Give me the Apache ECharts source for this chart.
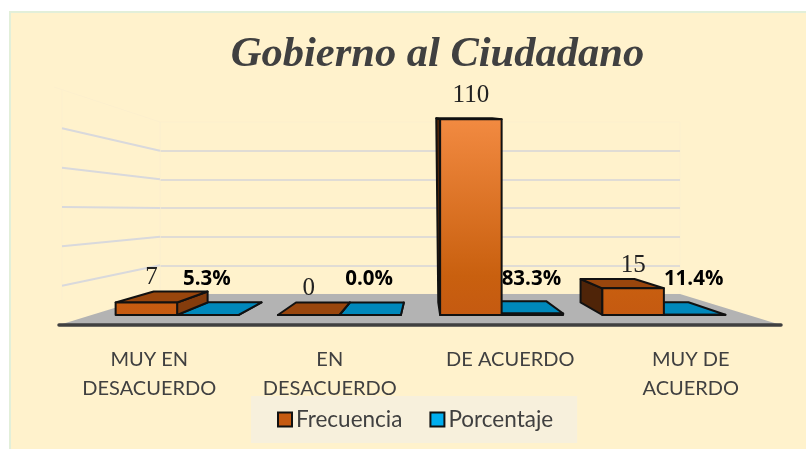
<!DOCTYPE html>
<html>
<head>
<meta charset="utf-8">
<style>
  html, body { margin: 0; padding: 0; background: #fff; }
  #panel { position: absolute; left: 9px; top: 11px; width: 795px; height: 436px; background: #FFF2CC; border-left: 2px solid #E2EFD9; border-top: 2px solid #E2EFD9; }
  #chart { position: absolute; left: 0; top: 0; width: 806px; height: 449px; }
</style>
</head>
<body>
<div id="panel"></div>
<div id="chart"></div>
<script src="https://cdn.jsdelivr.net/npm/echarts@6/dist/echarts.min.js"></script>
<script>
const categories = ["MUY EN\nDESACUERDO", "EN\nDESACUERDO", "DE ACUERDO", "MUY DE\nACUERDO"];
const frecuencia = [7, 0, 110, 15];
const porcentaje = [5.3, 0.0, 83.3, 11.4];
const wallTicks = [20, 40, 60, 80, 100];

// the chart was a 3D one, so there are three planes with their own scale
const axisMax = 120;
const frontGrid = { left: 59, top: 89, width: 722, height: 236 };
const backGrid = { left: 160, top: 122, width: 520, height: 172 };
const barGrid = { left: 96, top: 101.4, width: 649, height: 213.6 };

// perspective of the bar depth
const vx = 425, vy = 213, depth = 0.877;
function deep(p) {
  return [vx + depth * (p[0] - vx), vy + depth * (p[1] - vy)];
}

const serifFont = '"Liberation Serif", serif';
const barWidth = 61.5;

function poly(points, fill) {
  return {
    type: "polygon",
    shape: { points: points },
    style: { fill: fill, stroke: "#111", lineWidth: 2, lineJoin: "round" }
  };
}

// one box: side, top and front faces
function box(x0, x1, yTop, yBase, faces) {
  const a = deep([x0, yBase]), b = deep([x1, yBase]);
  let c = deep([x0, yTop]), d = deep([x1, yTop]);
  if (c[1] >= yTop) {
    c = [c[0] - 2, yTop - 1];
    d = [d[0], yTop - 1];
  }
  const out = [];
  if (x0 > vx) {
    out.push(poly([[x0, yTop], c, a, [x0, yBase]], faces.left));
  }
  if (x1 < vx) {
    out.push(poly([[x1, yTop], d, b, [x1, yBase]], faces.right));
  }
  out.push(poly([[x0, yTop], [x1, yTop], d, c], faces.top));
  out.push(poly([[x0, yTop], [x1, yTop], [x1, yBase], [x0, yBase]], faces.front));
  return { parts: out, backTop: c[1] };
}

function renderFrecuencia(params, api) {
  const i = api.value(0), v = api.value(1);
  const top = api.coord([i, v]), base = api.coord([i, 0]);
  const tall = api.coord([i, 110])[1];
  const x1 = base[0], x0 = x1 - barWidth;
  const r = box(x0, x1, top[1], base[1], {
    left: "#4F2408", right: "#843C0C", top: "#99460D",
    front: {
      type: "linear", global: true, x: 0, y: tall, x2: 0, y2: base[1],
      colorStops: [{ offset: 0, color: "#F28A41" }, { offset: 0.8, color: "#C9600F" }, { offset: 1, color: "#C55A11" }]
    }
  });
  const clipped = r.backTop >= top[1] - 2;
  const nudge = i === 0 ? 5 : 0;
  r.parts.push({
    type: "text",
    style: {
      x: (x0 + x1) / 2 + nudge,
      y: clipped ? top[1] - 24 : r.backTop - 14,
      text: String(v), fill: "#222", font: "25px " + serifFont,
      align: "center", verticalAlign: "middle"
    }
  });
  return { type: "group", children: r.parts };
}

function renderPorcentaje(params, api) {
  const i = api.value(0), v = api.value(1);
  // percentages share the count axis, so they stay almost flat
  const top = api.coord([i, v / 100]), base = api.coord([i, 0]);
  const x0 = base[0], x1 = x0 + barWidth;
  const r = box(x0, x1, top[1], base[1], { left: "#005F82", right: "#005F82", top: "#0088BB", front: "#0088BB" });
  r.parts.push({
    type: "text",
    style: {
      x: (x0 + x1) / 2 - 1, y: base[1] - 36,
      text: v.toFixed(1) + "%", fill: "#000", font: 'bold 20.5px "Open Sans", sans-serif',
      align: "center", verticalAlign: "middle"
    }
  });
  return { type: "group", children: r.parts };
}

function renderFloor(params) {
  const c = params.coordSys, by = backGrid.top + backGrid.height;
  return {
    type: "group",
    children: [
      { type: "polygon", shape: { points: [[c.x, c.y + c.height], [backGrid.left, by], [backGrid.left + backGrid.width, by], [c.x + c.width, c.y + c.height]] }, style: { fill: "#B3B3B3" } },
      { type: "polyline", shape: { points: [[54, c.y - 2], [backGrid.left, backGrid.top], [backGrid.left, by]] }, style: { fill: "none", stroke: "#FCEFCD", lineWidth: 1 } },
      { type: "line", shape: { x1: 62, y1: c.y, x2: 62, y2: 300 }, style: { stroke: "#FCEFCD", lineWidth: 1 } }
    ]
  };
}

function renderWall(params, api) {
  const v = api.value(0);
  const p = api.coord([0, v]);
  const backY = backGrid.top + backGrid.height * (1 - v / axisMax);
  return {
    type: "line",
    shape: { x1: 62, y1: p[1], x2: backGrid.left, y2: backY },
    style: { stroke: "#D9D9DC", lineWidth: 2 }
  };
}

const chart = echarts.init(document.getElementById("chart"));

chart.setOption({
  backgroundColor: "transparent",
  animation: false,
  title: {
    text: "Gobierno al Ciudadano",
    left: 432.5,
    top: 29,
    textAlign: "center",
    textStyle: { fontFamily: serifFont, fontStyle: "italic", fontWeight: "bold", fontSize: 42.5, color: "#404040" }
  },
  legend: {
    left: 251,
    top: 396,
    padding: [12, 24, 12, 26],
    backgroundColor: "#F7F0DC",
    itemWidth: 14,
    itemHeight: 14,
    itemGap: 27,
    icon: "rect",
    textStyle: { fontFamily: "Lato, sans-serif", fontSize: 22.5, color: "#404040", padding: [0, 0, 0, -1] },
    data: [
      { name: "Frecuencia", itemStyle: { color: "#C55A11", borderColor: "#111", borderWidth: 2 } },
      { name: "Porcentaje", itemStyle: { color: "#00AEEF", borderColor: "#111", borderWidth: 2 } }
    ]
  },
  grid: [
    Object.assign({}, frontGrid),
    Object.assign({ show: true, backgroundColor: "transparent", borderColor: "#FCEFCD", borderWidth: 1 }, backGrid),
    Object.assign({}, barGrid)
  ],
  xAxis: [
    {
      gridIndex: 0,
      type: "category",
      data: categories,
      z: 3,
      axisLine: { lineStyle: { color: "#404040", width: 3.5 } },
      axisTick: { show: false },
      axisLabel: { interval: 0, margin: 20, lineHeight: 29, fontFamily: "Lato, sans-serif", fontSize: 20, color: "#404040" }
    },
    { gridIndex: 1, type: "category", data: categories, show: false },
    { gridIndex: 2, type: "category", data: categories, show: false }
  ],
  yAxis: [
    { gridIndex: 0, type: "value", min: 0, max: axisMax, interval: 20, show: false, splitLine: { show: false } },
    {
      gridIndex: 1,
      type: "value",
      min: 0,
      max: axisMax,
      interval: 20,
      axisLine: { show: false },
      axisTick: { show: false },
      axisLabel: { show: false },
      splitLine: { showMinLine: false, showMaxLine: false, lineStyle: { color: "#E0DCD5", width: 2 } }
    },
    { gridIndex: 2, type: "value", min: 0, max: axisMax, show: false, splitLine: { show: false } }
  ],
  series: [
    { type: "custom", name: "suelo", xAxisIndex: 0, yAxisIndex: 0, z: 1, silent: true, data: [[0]], renderItem: renderFloor },
    { type: "custom", name: "pared", xAxisIndex: 0, yAxisIndex: 0, z: 1, silent: true, data: wallTicks.map(v => [v]), encode: { y: 0 }, renderItem: renderWall },
    {
      type: "custom", name: "Porcentaje", xAxisIndex: 2, yAxisIndex: 2, z: 4,
      itemStyle: { color: "#00AEEF" },
      data: porcentaje.map((v, i) => [i, v]),
      renderItem: renderPorcentaje
    },
    {
      type: "custom", name: "Frecuencia", xAxisIndex: 2, yAxisIndex: 2, z: 5,
      itemStyle: { color: "#C55A11" },
      data: frecuencia.map((v, i) => [i, v]),
      renderItem: renderFrecuencia
    }
  ]
});
</script>
</body>
</html>
